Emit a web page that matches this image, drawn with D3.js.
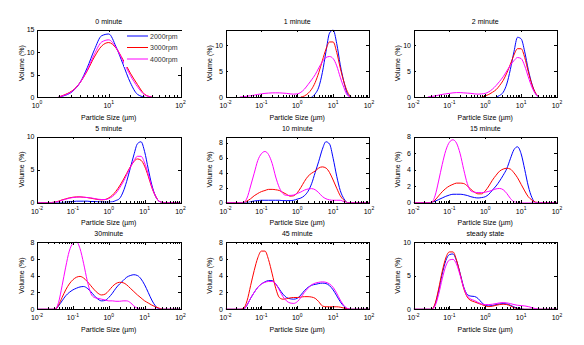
<!DOCTYPE html>
<html>
<meta charset="utf-8">
<title>Particle size distribution vs. time</title>
<style>
  body { margin: 0; background: #fff; }
  svg { font-family: Arial, "Liberation Sans", Helvetica, sans-serif; }
  .box { fill: none; stroke: #000; stroke-width: 1; shape-rendering: crispEdges; }
  .tk line { stroke: #000; shape-rendering: crispEdges; }
  .tk .domain { display: none; }
  .curve { fill: none; stroke-width: 1; }
</style>
<body>
<div id="chart"></div>
<script src="https://d3js.org/d3.v7.min.js"></script>
<script>

const _ = null;

// particle size classes (um)
const sizes = [0.01,0.0126,0.0158,0.02,0.0251,0.0316,0.0398,0.0501,0.0631,0.0794,
  0.1,0.126,0.158,0.2,0.251,0.316,0.398,0.501,0.631,0.794,
  1,1.26,1.58,2,2.51,3.16,3.98,5.01,6.31,7.94,
  10,12.6,15.8,20,25.1,31.6,39.8,50.1,63.1,79.4,100];

const titles = ['0 minute','1 minute','2 minute','5 minute','10 minute','15 minute','30minute','45 minute','steady state'];
const legendLabels = ['2000rpm','3000rpm','4000rpm'];
const seriesColors = ['#0000ff','#ff0000','#ff00ff'];
const xMin = [1,0.01,0.01,0.01,0.01,0.01,0.01,0.01,0.01];
const yMax = [15,13,13,10,8.8,8,8,8,10];
const yTicks = [[0,5,10,15],[0,5,10],[0,5,10],[0,5,10],[0,2,4,6,8],[0,2,4,6,8],[0,2,4,6,8],[0,2,4,6,8],[0,5,10]];

// volume (%) per size class
const min0_2000 = [_,_,_,_,_,_,_,_,_,_, _,_,_,_,_,_,_,_,_,_,
  _,_,_,0,0.4,1.3,3.2,6.5,10.5,13.6, 14.0,11.2,7.3,3.2,0.6,0,_,_,_,_,_];
const min0_3000 = [_,_,_,_,_,_,_,_,_,_, _,_,_,_,_,_,_,_,_,_,
  _,_,_,0,0.6,1.5,3.2,5.8,8.9,11.3, 12.1,10.9,8.3,5.3,2.8,0.6,0,_,_,_,_];
const min0_4000 = [_,_,_,_,_,_,_,_,_,_, _,_,_,_,_,_,_,_,_,_,
  _,_,_,0,0.5,1.4,3.2,6.0,9.5,12.2, 12.7,11.0,8.0,4.8,2.3,0.5,0,_,_,_,_];

const min1_2000 = [_,_,_,_,_,_,_,_,_,_, _,_,_,_,_,_,_,_,_,_,
  _,_,_,_,0,0.6,1.9,4.7,8.7,12.3, 12.9,10.3,6.2,2.9,0.6,0,_,_,_,_,_];
const min1_3000 = [_,_,_,_,_,_,_,_,_,_, _,_,_,_,_,_,_,_,_,_,
  _,0,0.2,0.7,1.5,2.8,4.7,7.0,9.2,10.6, 10.6,8.6,5.6,2.9,1.0,0,_,_,_,_,_];
const min1_4000 = [_,_,_,_,0,0.05,0.15,0.25,0.35,0.5,
  0.6,0.7,0.75,0.8,0.8,0.8,0.75,0.7,0.6,0.55,
  0.6,0.9,1.5,2.4,3.3,4.3,5.6,6.8,7.6,7.8,
  7.4,6.0,3.8,1.8,0.3,0,_,_,_,_,_];

const min2_2000 = [_,_,_,_,_,_,_,_,_,_, _,_,_,_,_,_,_,_,_,_,
  _,_,_,0,0.3,0.9,2.5,5.3,8.7,11.5, 11.2,8.7,5.3,2.5,0.7,0,_,_,_,_,_];
const min2_3000 = [_,_,_,_,_,_,_,_,_,_, _,_,_,_,_,_,_,_,_,0,
  0.2,0.5,0.9,1.4,2.2,3.2,4.6,6.3,8.1,9.3, 9.3,7.6,4.9,2.4,0.8,0,_,_,_,_,_];
const min2_4000 = [_,_,_,_,0,0.1,0.2,0.35,0.5,0.6,
  0.7,0.8,0.85,0.85,0.8,0.75,0.7,0.6,0.55,0.6,
  0.7,1.0,1.5,2.2,3.0,3.9,5.0,6.1,7.0,7.6,
  7.4,6.0,3.9,1.9,0.6,0,_,_,_,_,_];

const min5_2000 = [0,0,0,0,0,0,0,0,0.05,0.1,
  0.15,0.2,0.2,0.2,0.2,0.15,0.15,0.1,0.1,0.05,
  0.05,0.1,0.3,0.6,1.6,3.2,5.2,7.2,8.9,9.2,
  7.7,5.1,2.7,1.0,0.2,0,0,0,0,0,0];
const min5_3000 = [0,0,0,0,0,0.05,0.2,0.4,0.55,0.7,
  0.8,0.85,0.85,0.8,0.75,0.65,0.55,0.45,0.4,0.45,
  0.7,1.1,1.7,2.5,3.4,4.4,5.4,6.2,6.6,6.4,
  5.5,4.0,2.3,1.0,0.2,0,0,0,0,0,0];
const min5_4000 = [0,0,0,0,0,0.05,0.15,0.35,0.5,0.65,
  0.75,0.8,0.85,0.8,0.75,0.7,0.6,0.5,0.45,0.45,
  0.6,0.9,1.4,2.2,3.1,4.2,5.3,6.3,7.0,7.0,
  6.0,4.3,2.4,1.0,0.2,0,0,0,0,0,0];

const min10_2000 = [0,0,0,0,0,0,0,0.1,0.2,0.25,
  0.3,0.3,0.3,0.3,0.3,0.3,0.25,0.25,0.25,0.3,
  0.45,0.6,0.9,1.5,2.5,4.0,5.5,7.1,8.1,7.8,
  5.9,3.5,1.6,0.5,0,0,0,0,0,0,0];
const min10_3000 = [0,0,0,0,0,0,0.2,0.5,0.9,1.2,
  1.45,1.6,1.75,1.75,1.7,1.6,1.35,1.1,0.85,0.9,
  1.3,2.0,2.8,3.5,3.9,4.2,4.6,4.75,4.6,4.0,
  3.0,1.9,0.9,0.3,0,0,0,0,0,0,0];
const min10_4000 = [0,0,0,0,0,0,0.6,2.2,3.9,5.6,
  6.5,6.8,6.4,5.2,3.4,2.0,1.2,0.95,0.95,1.0,
  1.2,1.4,1.65,1.8,1.85,1.7,1.3,0.8,0.5,0.35,
  0.3,0.3,0.3,0.1,0,0,0,0,0,0,0];

const min15_2000 = [0,0,0,0,0,0,0.15,0.35,0.55,0.75,
  0.9,1.0,1.0,1.0,0.95,0.85,0.7,0.6,0.55,0.6,
  0.7,1.0,1.5,2.0,2.6,3.3,4.1,5.3,6.4,6.75,
  5.9,4.0,2.0,0.6,0,0,0,0,0,0,0];
const min15_3000 = [0,0,0,0,0,0,0.3,0.8,1.3,1.7,
  2.0,2.2,2.35,2.35,2.3,2.0,1.6,1.25,1.05,1.05,
  1.4,2.0,2.7,3.3,3.8,4.05,4.15,4.05,3.6,3.0,
  2.2,1.4,0.7,0.3,0.05,0,0,0,0,0,0];
const min15_4000 = [0,0,0,0,0,0,0.8,2.6,4.6,6.3,
  7.3,7.6,7.2,5.9,4.0,2.3,1.4,1.25,1.2,1.2,
  1.25,1.35,1.5,1.65,1.7,1.55,1.1,0.5,0.1,0,
  0,0,0,0,0,0,0,0,0,0,0];

const min30_2000 = [0,0,0,0,0,0,0.4,1.0,1.6,2.0,
  2.3,2.5,2.65,2.7,2.5,2.1,1.6,1.2,1.0,1.05,
  1.4,1.9,2.5,3.0,3.4,3.8,4.0,4.1,4.0,3.6,
  2.9,2.0,1.1,0.4,0.05,0,0,0,0,0,0];
const min30_3000 = [0,0,0,0,0,0,0.5,1.4,2.3,3.0,
  3.5,3.8,3.9,3.7,3.3,2.8,2.3,1.9,1.7,1.8,
  2.2,2.7,3.05,3.2,3.15,2.9,2.5,2.1,1.7,1.35,
  1.0,0.75,0.5,0.3,0.15,0,0,0,0,0,0];
const min30_4000 = [0,0,0,0,0,0,0.8,2.8,5.0,6.9,
  7.8,8.0,7.2,5.4,3.4,1.9,1.4,1.3,1.2,1.1,
  1.0,1.0,0.95,0.95,1.0,1.0,0.8,0.4,0.1,0,
  0,0,0,0,0,0,0,0,0,0,0];

const min45_2000 = [0,0,0,0,0,0,0.5,1.3,2.0,2.6,
  3.0,3.25,3.4,3.4,3.0,2.4,1.8,1.4,1.25,1.2,
  1.3,1.7,2.2,2.6,2.85,2.95,3.05,3.1,3.05,2.8,
  2.3,1.6,0.9,0.35,0.05,0,0,0,0,0,0];
const min45_3000 = [0,0,0,0,0,0.1,1.0,2.8,4.6,6.1,
  6.9,6.9,5.9,4.2,2.5,1.4,1.2,1.25,1.35,1.4,
  1.4,1.45,1.5,1.5,1.45,1.3,0.9,0.4,0.3,0.3,
  0.3,0.3,0.25,0.15,0.05,0,0,0,0,0,0];
const min45_4000 = [0,0,0,0,0,0,0.5,1.3,2.0,2.6,
  3.0,3.2,3.3,3.3,3.0,2.3,1.5,1.0,0.75,0.7,
  0.9,1.4,2.0,2.5,2.9,3.1,3.2,3.25,3.2,3.0,
  2.6,1.9,1.1,0.45,0.1,0,0,0,0,0,0];

const steady_2000 = [0,0,0,0,0,0,0.7,2.7,5.2,7.2,
  8.1,8.2,7.2,5.3,3.3,2.2,1.95,1.9,1.6,1.0,
  0.6,0.5,0.55,0.7,0.8,0.85,0.8,0.6,0.35,0.15,
  0.05,0,0,0,0,0,0,0,0,0,0];
const steady_3000 = [0,0,0,0,0,0,0.8,3.0,5.6,7.6,
  8.5,8.5,7.3,5.2,3.1,1.8,1.3,1.1,0.9,0.7,
  0.5,0.4,0.45,0.6,0.7,0.75,0.7,0.5,0.25,0.05,
  0,0,0,0,0,0,0,0,0,0,0];
const steady_4000 = [0,0,0,0,0,0,0.5,2.2,4.5,6.4,
  7.3,7.4,6.7,5.0,3.2,2.0,1.5,1.3,1.0,0.8,
  0.7,0.7,0.75,0.85,0.95,1.0,0.95,0.85,0.7,0.6,
  0.55,0.5,0.4,0.25,0.1,0,0,0,0,0,0];

const panels = [
  [min0_2000, min0_3000, min0_4000],
  [min1_2000, min1_3000, min1_4000],
  [min2_2000, min2_3000, min2_4000],
  [min5_2000, min5_3000, min5_4000],
  [min10_2000, min10_3000, min10_4000],
  [min15_2000, min15_3000, min15_4000],
  [min30_2000, min30_3000, min30_4000],
  [min45_2000, min45_3000, min45_4000],
  [steady_2000, steady_3000, steady_4000]
];

const colLeft = [37, 225.5, 413.5];
const plotW = 143.5;
const rowTop = [29.5, 136.5, 241.8];
const rowBot = [97, 202.5, 309.3];
const fs = 7;

const svg = d3.select('#chart').append('svg')
  .attr('width', 584)
  .attr('height', 345);

panels.forEach((series, k) => {
  const r = Math.floor(k / 3), c = k % 3;
  const x0 = colLeft[c], x1 = x0 + plotW, y0 = rowTop[r], y1 = rowBot[r];

  const x = d3.scaleLog().domain([xMin[k], 100]).range([x0, x1]);
  const y = d3.scaleLinear().domain([0, yMax[k]]).range([y1, y0]);

  const g = svg.append('g');

  svg.append('clipPath').attr('id', 'clip' + k)
    .append('rect').attr('x', x0).attr('y', y0).attr('width', plotW).attr('height', y1 - y0);

  const line = d3.line()
    .defined(d => d[1] != null)
    .x(d => x(d[0]))
    .y(d => y(d[1]))
    .curve(d3.curveMonotoneX);

  g.append('g').attr('clip-path', `url(#clip${k})`)
    .selectAll('path').data(series).join('path')
    .attr('class', 'curve')
    .attr('stroke', (v, i) => seriesColors[i])
    .attr('d', v => line(sizes.map((s, i) => [s, v[i]]).filter(d => d[0] >= xMin[k])));

  // log ticks: decades are major, the rest minor
  const all = x.ticks();
  const isMajor = t => Math.abs(Math.log10(t) - Math.round(Math.log10(t))) < 1e-6;
  const major = all.filter(isMajor);
  const minor = all.filter(t => !isMajor(t));

  const tick = (axis, tx, ty) => g.append('g').attr('class', 'tk')
    .attr('transform', `translate(${tx},${ty})`).call(axis);

  tick(d3.axisBottom(x).tickValues(minor).tickSize(-1.8).tickFormat(''), 0, y1);
  tick(d3.axisBottom(x).tickValues(major).tickSize(-2.8).tickFormat(''), 0, y1);
  tick(d3.axisTop(x).tickValues(minor).tickSize(-1.8).tickFormat(''), 0, y0);
  tick(d3.axisTop(x).tickValues(major).tickSize(-2.8).tickFormat(''), 0, y0);
  tick(d3.axisRight(y).tickValues(yTicks[k]).tickSize(-2.8).tickFormat(''), x1, 0);
  const ly = tick(d3.axisLeft(y).tickValues(yTicks[k]).tickSize(-2.8).tickPadding(2.5).tickFormat(d3.format('d')), x0, 0);
  ly.attr('font-size', fs).attr('font-family', null);
  ly.selectAll('text').attr('fill', '#000');

  g.append('rect').attr('class', 'box')
    .attr('x', Math.round(x0) + 0.5).attr('y', Math.round(y0) + 0.5)
    .attr('width', Math.round(x1) - Math.round(x0)).attr('height', Math.round(y1) - Math.round(y0));

  // x tick labels 10^n
  const lab = g.append('g').selectAll('text').data(major).join('text')
    .attr('x', d => x(d)).attr('y', y1 + 11)
    .attr('text-anchor', 'middle').attr('font-size', fs);
  lab.append('tspan').text('10');
  lab.append('tspan').attr('dy', -3.6).attr('font-size', 5)
    .text(d => String(Math.round(Math.log10(d))));

  g.append('text').attr('x', (x0 + x1) / 2).attr('y', y0 - 5.5)
    .attr('text-anchor', 'middle').attr('font-size', fs).text(titles[k]);

  g.append('text').attr('x', (x0 + x1) / 2).attr('y', y1 + 22.5)
    .attr('text-anchor', 'middle').attr('font-size', fs).text('Particle Size (\u00b5m)');

  g.append('text')
    .attr('transform', `translate(${x0 - 13.5},${(y0 + y1) / 2}) rotate(-90)`)
    .attr('text-anchor', 'middle').attr('font-size', fs).text('Volume (%)');

  if (k === 0) {
    const lg = g.append('g');
    lg.append('rect').attr('x', 124).attr('y', y0 + 1.5).attr('width', 60).attr('height', 36).attr('fill', '#fff');
    const rows = [36, 47.5, 59];
    const ent = lg.selectAll('g').data(legendLabels).join('g')
      .attr('transform', (d, i) => `translate(0,${rows[i]})`);
    ent.append('line').attr('x1', 127).attr('x2', 148)
      .attr('stroke', (d, i) => seriesColors[i]).attr('stroke-width', 1);
    ent.append('text').attr('x', 150).attr('y', 2.5)
      .attr('font-size', fs).attr('fill', '#333').text(d => d);
  }
});

</script>
</body>
</html>
